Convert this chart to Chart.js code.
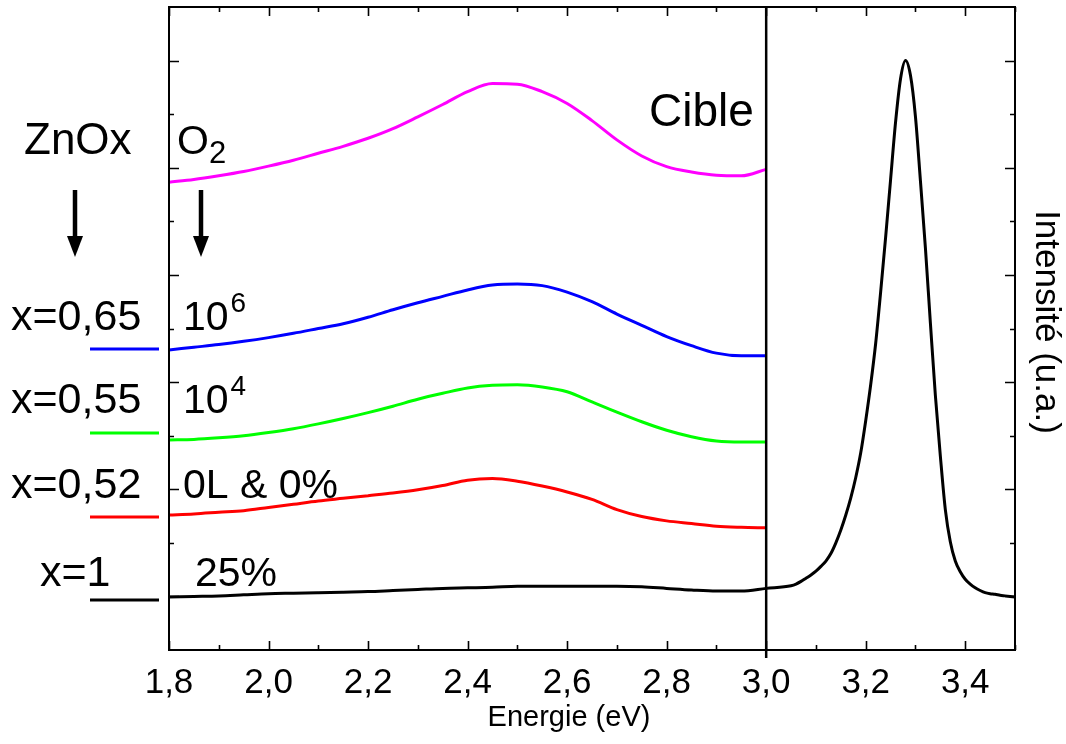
<!DOCTYPE html>
<html>
<head>
<meta charset="utf-8">
<script src="https://cdn.jsdelivr.net/npm/chart.js@4/dist/chart.umd.min.js"></script>
<style>
  html, body { margin: 0; padding: 0; background: #fff; }
  #wrap { width: 1066px; height: 744px; }
</style>
</head>
<body>
<div id="wrap"><canvas id="plChart" width="1066" height="744"></canvas></div>
<script>
// Photoluminescence spectra (arbitrary units, offset per sample)

const energy = [1.80, 1.85, 1.90, 1.95, 2.00, 2.05, 2.10, 2.15, 2.20, 2.25, 2.30, 2.35, 2.40,
                2.45, 2.50, 2.55, 2.60, 2.65, 2.70, 2.75, 2.80, 2.85, 2.90, 2.95, 3.00];

const magentaVals = [8.73, 8.78, 8.85, 8.93, 9.03, 9.14, 9.27, 9.40, 9.55, 9.73, 9.95, 10.18, 10.42,
                     10.57, 10.56, 10.42, 10.20, 9.88, 9.52, 9.22, 9.02, 8.92, 8.86, 8.85, 8.97];
const blueVals = [5.60, 5.65, 5.70, 5.76, 5.83, 5.91, 6.00, 6.09, 6.21, 6.35, 6.48, 6.60, 6.72,
                  6.81, 6.83, 6.80, 6.68, 6.50, 6.27, 6.06, 5.85, 5.68, 5.54, 5.49, 5.49];
const greenVals = [3.92, 3.93, 3.96, 4.00, 4.06, 4.13, 4.22, 4.32, 4.43, 4.55, 4.68, 4.79, 4.89,
                   4.94, 4.95, 4.91, 4.82, 4.63, 4.44, 4.26, 4.10, 3.98, 3.90, 3.88, 3.88];
const redVals = [2.52, 2.54, 2.57, 2.60, 2.66, 2.72, 2.78, 2.83, 2.88, 2.93, 2.99, 3.07, 3.17,
                 3.20, 3.15, 3.06, 2.95, 2.81, 2.62, 2.49, 2.41, 2.36, 2.31, 2.29, 2.28];
const blackVals = [0.99, 1.00, 1.01, 1.03, 1.05, 1.06, 1.07, 1.08, 1.09, 1.11, 1.13, 1.15, 1.16,
                   1.17, 1.19, 1.19, 1.19, 1.19, 1.19, 1.18, 1.15, 1.12, 1.10, 1.10, 1.15];

// target (Cible) spectrum beyond 3,0 eV
const energyPeak = [3.05, 3.06, 3.07, 3.08, 3.09, 3.10, 3.11, 3.12, 3.13, 3.14, 3.15, 3.16,
                    3.17, 3.18, 3.19, 3.20, 3.21, 3.22, 3.23, 3.24, 3.25, 3.26, 3.27, 3.28,
                    3.29, 3.30, 3.31, 3.32, 3.33, 3.34, 3.35, 3.36, 3.37, 3.38, 3.39, 3.40,
                    3.41, 3.42, 3.43, 3.44, 3.45, 3.46, 3.47, 3.48, 3.49, 3.50];
const peakVals = [1.20, 1.23, 1.28, 1.34, 1.40, 1.47, 1.56, 1.66, 1.80, 2.00, 2.24, 2.52,
                  2.84, 3.22, 3.68, 4.28, 4.95, 5.72, 6.68, 7.70, 8.78, 9.85, 10.66, 11.00,
                  10.72, 9.95, 8.75, 7.50, 6.10, 4.75, 3.62, 2.62, 2.02, 1.66, 1.46, 1.32,
                  1.23, 1.16, 1.11, 1.07, 1.05, 1.04, 1.02, 1.01, 1.00, 0.99];

const xTickValues = [1.8, 2.0, 2.2, 2.4, 2.6, 2.8, 3.0, 3.2, 3.4];
const xTickLabels = ['1,8', '2,0', '2,2', '2,4', '2,6', '2,8', '3,0', '3,2', '3,4'];
const xMinorTicks = [1.9, 2.1, 2.3, 2.5, 2.7, 2.9, 3.1, 3.3, 3.5];
const yMajorTicks = [1, 3, 5, 7, 9, 11];
const yMinorTicks = [2, 4, 6, 8, 10];
const dividerEnergy = 3.0;

const sampleLabels = ['x=0,65', 'x=0,55', 'x=0,52', 'x=1'];
const oxygenLabels = ['10', '10', '0L & 0%', '25%'];
const oxygenExp = ['6', '4', '', ''];
const sampleColors = ['#0000ff', '#00ff00', '#ff0000', '#000000'];

const FONT = '"Liberation Sans", Arial, sans-serif';

function pts(xs, ys) {
    return xs.map((x, i) => ({x: x, y: ys[i]}));
}

function lineSet(label, data, color) {
    return {
        label: label,
        data: data,
        borderColor: color,
        backgroundColor: color,
        borderWidth: 3,
        pointRadius: 0,
        cubicInterpolationMode: 'monotone',
        fill: false
    };
}

// frame, inner ticks, divider line, axis titles and the text annotations
const decorPlugin = {
    id: 'decor',
    afterDatasetsDraw(chart) {
        const ctx = chart.ctx;
        const area = chart.chartArea;
        const xs = chart.scales.x;
        const ys = chart.scales.y;
        ctx.save();
        ctx.strokeStyle = '#000';
        ctx.lineWidth = 2;
        ctx.strokeRect(area.left, area.top, area.right - area.left, area.bottom - area.top);

        ctx.lineWidth = 1.6;
        ctx.beginPath();
        xTickValues.concat(xMinorTicks).forEach(v => {
            const len = xTickValues.includes(v) ? 9 : 5;
            const px = Math.round(xs.getPixelForValue(v)) + 0.5;
            ctx.moveTo(px, area.bottom); ctx.lineTo(px, area.bottom - len);
            ctx.moveTo(px, area.top); ctx.lineTo(px, area.top + len);
        });
        yMajorTicks.concat(yMinorTicks).forEach(v => {
            const len = yMajorTicks.includes(v) ? 10 : 5;
            const py = Math.round(ys.getPixelForValue(v)) + 0.5;
            ctx.moveTo(area.left, py); ctx.lineTo(area.left + len, py);
            ctx.moveTo(area.right, py); ctx.lineTo(area.right - len, py);
        });
        ctx.stroke();

        // divider at 3,0 eV
        const dx = xs.getPixelForValue(dividerEnergy);
        ctx.lineWidth = 2.5;
        ctx.beginPath();
        ctx.moveTo(dx, area.top);
        ctx.lineTo(dx, area.bottom + 8);
        ctx.stroke();

        ctx.fillStyle = '#000';
        ctx.textBaseline = 'alphabetic';

        // axis titles
        ctx.font = '29px ' + FONT;
        ctx.textAlign = 'center';
        ctx.textBaseline = 'middle';
        ctx.fillText('Energie (eV)', 569, 718);
        ctx.save();
        ctx.translate(1046, 322);
        ctx.rotate(Math.PI / 2);
        ctx.font = '35px ' + FONT;
        ctx.fillText('Intensité (u.a.)', 0, 0);
        ctx.restore();
        ctx.textAlign = 'left';
        ctx.textBaseline = 'alphabetic';

        ctx.font = '44px ' + FONT;
        ctx.fillText('ZnOx', 24, 154);
        ctx.font = '46px ' + FONT;
        ctx.fillText('Cible', 649, 126);
        ctx.font = '41px ' + FONT;
        ctx.fillText('O', 177, 154);
        ctx.font = '31px ' + FONT;
        ctx.fillText('2', 209, 163);

        // arrows
        [75, 201].forEach(ax => {
            ctx.lineWidth = 4.5;
            ctx.beginPath();
            ctx.moveTo(ax, 190);
            ctx.lineTo(ax, 240);
            ctx.stroke();
            ctx.beginPath();
            ctx.moveTo(ax - 8, 236);
            ctx.lineTo(ax + 8, 236);
            ctx.lineTo(ax, 257);
            ctx.closePath();
            ctx.fill();
        });

        // sample legend on the left, oxygen labels inside
        const legendY = [349, 433, 517, 600];
        const labelY = [330, 413, 498, 586];
        sampleLabels.forEach((s, i) => {
            ctx.font = '43px ' + FONT;
            ctx.fillStyle = '#000';
            ctx.fillText(s, i === 3 ? 40 : 11, labelY[i]);
            ctx.strokeStyle = sampleColors[i];
            ctx.lineWidth = 3;
            ctx.beginPath();
            ctx.moveTo(90, legendY[i]);
            ctx.lineTo(159, legendY[i]);
            ctx.stroke();

            const ox = i === 3 ? 195 : 183;
            ctx.font = '41px ' + FONT;
            ctx.fillText(oxygenLabels[i], ox, labelY[i]);
            if (oxygenExp[i]) {
                const w = ctx.measureText(oxygenLabels[i]).width;
                ctx.font = '28px ' + FONT;
                ctx.fillText(oxygenExp[i], ox + w + 2, labelY[i] - 18);
            }
        });
        ctx.restore();
    }
};

const ctx = document.getElementById('plChart').getContext('2d');
new Chart(ctx, {
    type: 'line',
    data: {
        datasets: [
            lineSet('Cible', pts(energy.concat(energyPeak), blackVals.concat(peakVals)), '#000000'),
            lineSet('x=0,52', pts(energy, redVals), '#ff0000'),
            lineSet('x=0,55', pts(energy, greenVals), '#00ff00'),
            lineSet('x=0,65', pts(energy, blueVals), '#0000ff'),
            lineSet('ZnOx', pts(energy, magentaVals), '#ff00ff')
        ]
    },
    options: {
        responsive: false,
        animation: false,
        devicePixelRatio: 1,
        layout: {
            padding: {left: 169, top: 7, right: 0, bottom: 0}
        },
        plugins: {
            legend: {display: false},
            tooltip: {enabled: false}
        },
        scales: {
            x: {
                type: 'linear',
                min: 1.8,
                max: 3.5,
                grid: {display: false, drawTicks: false},
                border: {display: false},
                afterBuildTicks: function(scale) {
                    scale.ticks = xTickValues.map(v => ({value: v}));
                },
                afterFit: function(scale) {
                    scale.height = 94;
                },
                ticks: {
                    color: '#000',
                    padding: 12,
                    maxRotation: 0,
                    font: {family: FONT, size: 35},
                    callback: function(value, index) {
                        return xTickLabels[index];
                    }
                },
                title: {display: false}
            },
            y: {
                type: 'linear',
                position: 'right',
                min: 0,
                max: 12,
                grid: {display: false, drawTicks: false},
                border: {display: false},
                ticks: {display: false},
                afterFit: function(scale) {
                    scale.width = 51;
                },
                title: {display: false}
            }
        }
    },
    plugins: [decorPlugin]
});
</script>
</body>
</html>
